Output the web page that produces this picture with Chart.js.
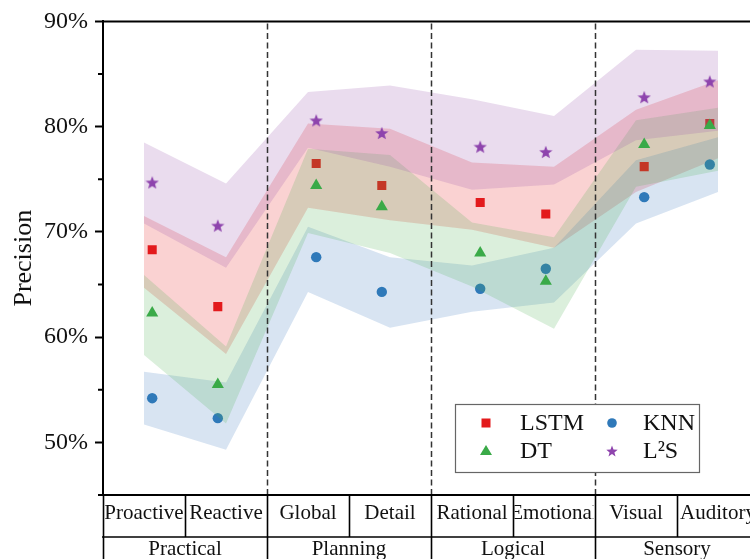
<!DOCTYPE html>
<html><head><meta charset="utf-8">
<script src="https://cdn.jsdelivr.net/npm/chart.js"></script>
<style>
html,body{margin:0;padding:0;background:#fff;overflow:hidden;}
#wrap{position:relative;width:780px;height:559px;}
</style></head><body>
<div id="wrap"><canvas id="c"></canvas></div>
<script>
// ---- data ----
const categories = ['Proactive','Reactive','Global','Detail','Rational','Emotional','Visual','Auditory'];
const groups = ['Practical','Planning','Logical','Sensory'];
const yTickValues = [50,60,70,80,90];
const seriesNames = ['LSTM','KNN','DT','L\u00B2S'];

const lstm = [68.3, 62.9, 76.5, 74.4, 72.8, 71.7, 76.2, 80.3];
const knn  = [54.2, 52.3, 67.6, 64.3, 64.6, 66.5, 73.3, 76.4];
const dt   = [62.3, 55.5, 74.4, 72.4, 68.0, 65.3, 78.3, 80.1];
const l2s  = [74.7, 70.6, 80.6, 79.4, 78.1, 77.6, 82.8, 84.3];

const lstmUpper = [71.5, 67.6, 80.3, 79.8, 76.6, 76.2, 81.6, 84.4];
const lstmLower = [64.7, 58.4, 72.3, 71.1, 70.2, 68.5, 73.8, 77.0];
const knnUpper  = [56.7, 55.7, 70.5, 67.6, 66.8, 68.5, 76.8, 79.0];
const knnLower  = [51.7, 49.3, 64.3, 60.9, 62.4, 63.3, 70.8, 73.8];
const dtUpper   = [65.9, 59.1, 77.9, 77.3, 70.9, 69.5, 80.6, 81.8];
const dtLower   = [58.3, 51.8, 69.9, 68.0, 64.8, 60.8, 74.3, 75.8];
const l2sUpper  = [78.5, 74.6, 83.3, 83.9, 82.6, 81.0, 87.3, 87.2];
const l2sLower  = [70.8, 66.6, 78.0, 76.2, 74.0, 74.5, 78.7, 79.6];

// ---- styling ----
const FONT = "'Liberation Serif','Times New Roman',serif";
const C = {
  lstm: '#e31a1c', knn: '#2f79b9', dt: '#3aaa48', l2s: '#8e44ad',
  lstmBand: 'rgba(230,30,30,0.2)', knnBand: 'rgba(60,120,190,0.2)',
  dtBand: 'rgba(76,175,80,0.2)', l2sBand: 'rgba(148,80,170,0.2)'
};

// positions on the linear x scale: each category cell is 5 units wide
const pointX = i => Math.floor(i/2)*10 + (i%2 ? 7 : 3);
const bandX = i => i*5 + 2.5;
const pts = arr => arr.map((v,i)=>({x:pointX(i), y:v}));
const band = arr => arr.map((v,i)=>({x:bandX(i), y:v}));

function makeStar(size, color){
  const c = document.createElement('canvas');
  c.width = size; c.height = size;
  const g = c.getContext('2d');
  g.fillStyle = color;
  g.beginPath();
  const cx = size/2, cy = size/2 + size*0.05, R = size/2, r = R*0.42;
  for (let k=0;k<10;k++){
    const a = -Math.PI/2 + k*Math.PI/5;
    const rad = k%2 ? r : R;
    const px = cx + Math.cos(a)*rad, py = cy + Math.sin(a)*rad;
    k ? g.lineTo(px,py) : g.moveTo(px,py);
  }
  g.closePath(); g.fill();
  return c;
}
const starImg = makeStar(14, C.l2s);
const starLegend = makeStar(12, C.l2s);

function bandSets(upper, lower, fillColor, order){
  return [
    {data: band(upper), fill: '+1', backgroundColor: fillColor, borderColor: 'transparent',
     borderWidth: 0, pointRadius: 0, tension: 0, order},
    {data: band(lower), fill: false, borderColor: 'transparent', backgroundColor: 'transparent',
     borderWidth: 0, pointRadius: 0, tension: 0, order}
  ];
}
function pointSet(arr, style, radius, color, order){
  return {data: pts(arr), showLine: false, pointStyle: style, pointRadius: radius,
    pointHoverRadius: radius, pointBackgroundColor: color, pointBorderColor: 'transparent',
    pointBorderWidth: 0, backgroundColor: color, borderColor: color, order};
}

const datasets = [
  ...bandSets(lstmUpper, lstmLower, C.lstmBand, 8),
  ...bandSets(knnUpper, knnLower, C.knnBand, 7),
  pointSet(lstm, 'rect', 6.4, C.lstm, 6),
  pointSet(knn, 'circle', 5.2, C.knn, 5),
  ...bandSets(dtUpper, dtLower, C.dtBand, 4),
  ...bandSets(l2sUpper, l2sLower, C.l2sBand, 3),
  pointSet(dt, 'triangle', 7, C.dt, 2),
  pointSet(l2s, starImg, 7, C.l2s, 1)
];

const decor = {
  id: 'decor',
  afterDatasetsDraw(chart){
    const {ctx, chartArea:{left, top, right, bottom}, scales:{x}} = chart;
    const H = chart.height;
    ctx.save();
    // dashed group separators
    ctx.strokeStyle = '#333'; ctx.lineWidth = 1.5; ctx.setLineDash([6,3.5]);
    for (let g=1; g<groups.length; g++){
      const px = Math.round(x.getPixelForValue(g*10)) + 0.5;
      ctx.beginPath(); ctx.moveTo(px, top+2); ctx.lineTo(px, bottom); ctx.stroke();
    }
    ctx.setLineDash([]);
    // top frame
    ctx.strokeStyle = '#000'; ctx.lineWidth = 2;
    ctx.beginPath(); ctx.moveTo(left-1, top); ctx.lineTo(right, top); ctx.stroke();
    // table
    const row1 = bottom + 42;
    ctx.lineWidth = 2;
    ctx.beginPath(); ctx.moveTo(left-1, bottom); ctx.lineTo(right, bottom); ctx.stroke();
    ctx.lineWidth = 1.6;
    ctx.beginPath(); ctx.moveTo(left-1, row1); ctx.lineTo(right, row1); ctx.stroke();
    for (let i=0; i<=categories.length; i++){
      const px = Math.round(x.getPixelForValue(i*5)) + 0.5;
      ctx.beginPath(); ctx.moveTo(px, bottom); ctx.lineTo(px, i%2===0 ? H : row1); ctx.stroke();
    }
    ctx.fillStyle = '#111';
    ctx.font = "21px " + FONT;
    ctx.textAlign = 'center'; ctx.textBaseline = 'alphabetic';
    categories.forEach((c,i)=>{
      const x0 = x.getPixelForValue(i*5), x1 = x.getPixelForValue(i*5+5);
      ctx.save();
      ctx.beginPath(); ctx.rect(x0+1.5, bottom, x1-x0-3, 42); ctx.clip();
      ctx.fillText(c, (x0+x1)/2, bottom + 24);
      ctx.restore();
    });
    groups.forEach((g,i)=>{
      ctx.fillText(g, x.getPixelForValue(i*10+5), bottom + 60);
    });
    // legend
    const lx = 455, ly = 404, lw = 244, lh = 68;
    ctx.fillStyle = '#fff';
    ctx.fillRect(lx, ly, lw, lh);
    ctx.strokeStyle = '#666'; ctx.lineWidth = 1.2;
    ctx.strokeRect(lx+0.5, ly+0.5, lw, lh);
    const entries = [
      {name: seriesNames[0], mx: 486, tx: 520, y: 423, kind: 'rect', color: C.lstm},
      {name: seriesNames[1], mx: 612, tx: 643, y: 423, kind: 'circle', color: C.knn},
      {name: seriesNames[2], mx: 486, tx: 520, y: 451, kind: 'triangle', color: C.dt},
      {name: seriesNames[3], mx: 612, tx: 643, y: 451, kind: 'star', color: C.l2s}
    ];
    ctx.font = "24px " + FONT; ctx.textAlign = 'left'; ctx.textBaseline = 'middle';
    entries.forEach(e=>{
      ctx.fillStyle = e.color;
      if (e.kind === 'rect') ctx.fillRect(e.mx-4.5, e.y-4.5, 9, 9);
      else if (e.kind === 'circle'){ ctx.beginPath(); ctx.arc(e.mx, e.y, 4.8, 0, Math.PI*2); ctx.fill(); }
      else if (e.kind === 'triangle'){
        ctx.beginPath(); ctx.moveTo(e.mx, e.y-6); ctx.lineTo(e.mx+6, e.y+4); ctx.lineTo(e.mx-6, e.y+4); ctx.closePath(); ctx.fill();
      } else ctx.drawImage(starLegend, e.mx-6, e.y-6);
      ctx.fillStyle = '#111';
      ctx.fillText(e.name, e.tx, e.y + 1);
    });
    ctx.restore();
  },
  afterDraw(chart){
    const {ctx, chartArea:{left}, scales:{y}} = chart;
    ctx.save();
    ctx.strokeStyle = '#000'; ctx.lineWidth = 2;
    for (let v = 45; v < 90; v += 10){
      const py = y.getPixelForValue(v);
      ctx.beginPath(); ctx.moveTo(left-5, py); ctx.lineTo(left, py); ctx.stroke();
    }
    ctx.restore();
  }
};

new Chart(document.getElementById('c'), {
  type: 'line',
  data: {datasets},
  options: {
    responsive: true, maintainAspectRatio: false, animation: false, devicePixelRatio: 1,
    layout: {padding: {top: 21, right: 21, bottom: 64, left: 0}},
    plugins: {legend: {display: false}, tooltip: {enabled: false}},
    scales: {
      x: {type: 'linear', min: 0, max: 40, display: false},
      y: {
        type: 'linear', min: 45, max: 90,
        afterFit(s){ s.width = 103; },
        border: {display: true, color: '#000', width: 2},
        grid: {drawOnChartArea: false, drawTicks: true, tickLength: 8, tickWidth: 2,
               tickColor: c => (c.tick && c.tick.value % 10 === 0) ? '#000' : 'rgba(0,0,0,0)'},
        ticks: {stepSize: 5, autoSkip: false, padding: 7, color: '#111',
                font: {family: FONT, size: 24},
                callback: v => yTickValues.includes(v) ? v + '%' : ''},
        title: {display: true, text: 'Precision', color: '#111',
                font: {family: FONT, size: 26}, padding: {top: 9, bottom: 0}}
      }
    }
  },
  plugins: [decor]
});
</script>
</body></html>
